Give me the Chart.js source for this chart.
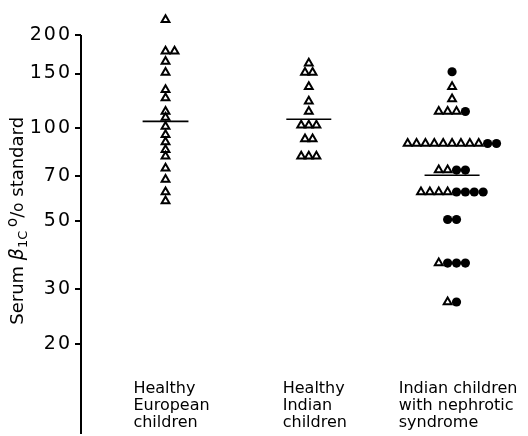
<!DOCTYPE html>
<html>
<head>
<meta charset="utf-8">
<script src="https://cdn.jsdelivr.net/npm/chart.js@4.4.1/dist/chart.umd.min.js"></script>
<style>
  html, body { margin: 0; padding: 0; background: #fff; }
  #wrap { position: relative; width: 528px; height: 436px; }
</style>
</head>
<body>
<div id="wrap"><canvas id="chart"></canvas></div>
<script>
// Group captions (each line drawn under its column)
const groupLabels = [
  ['Healthy', 'European', 'children'],
  ['Healthy', 'Indian', 'children'],
  ['Indian children', 'with nephrotic', 'syndrome']
];

// Labelled ticks on the logarithmic axis
const yTickValues = [20, 30, 50, 70, 100, 150, 200];

// Serum beta-1C, % of standard — open triangles and filled circles
const europeanTriangles = [224, 177, 177, 164, 151, 133, 125, 113, 108, 101, 95, 90, 85, 81, 74, 68, 62, 58];
const indianTriangles = [162, 151, 151, 136, 122, 113, 102, 102, 102, 92, 92, 81, 81, 81];
const nephroticTriangles = [136, 124, 113, 113, 113, 89, 89, 89, 89, 89, 89, 89, 89, 89, 73, 73, 62, 62, 62, 62, 36.5, 27.3];
const nephroticCircles = [152, 113, 89, 89, 73, 73, 62, 62, 62, 62, 50.5, 50.5, 36.5, 36.5, 36.5, 27.3];

// Group means (horizontal bars)
const groupMeans = [105, 106.6, 70.2];

// Axis extent: the drawn spine runs from the bottom up to the 200 tick
const yMin = 10.2, ySpineTop = 200, yMax = 250;
const xMin = 0.41, xMax = 3.53;

const FONT = '"DejaVu Sans", Verdana, sans-serif';

// How the points of each column are spread when several share a value
const groups = [
  { triangles: europeanTriangles, circles: [], align: 'start', step: 0.063, meanHalf: 0.160 },
  { triangles: indianTriangles, circles: [], align: 'center', step: 0.053, meanHalf: 0.157 },
  { triangles: nephroticTriangles, circles: nephroticCircles, align: 'center', step: 0.062, meanHalf: 0.192 }
];

function layoutGroup(g, center) {
  const rows = new Map();
  const bump = (v, key) => {
    if (!rows.has(v)) rows.set(v, { tri: 0, circ: 0 });
    rows.get(v)[key]++;
  };
  g.triangles.forEach(v => bump(v, 'tri'));
  g.circles.forEach(v => bump(v, 'circ'));
  const tri = [], circ = [];
  rows.forEach((r, v) => {
    const n = r.tri + r.circ;
    const anchor = g.align === 'center' ? (n - 1) / 2 : 0;
    for (let k = 0; k < n; k++) {
      const pt = { x: center + (k - anchor) * g.step, y: v };
      (k < r.tri ? tri : circ).push(pt);
    }
  });
  return { tri, circ };
}

const trianglePts = [], circlePts = [], meanSets = [];
groups.forEach((g, i) => {
  const center = i + 1;
  const { tri, circ } = layoutGroup(g, center);
  trianglePts.push(...tri);
  circlePts.push(...circ);
  meanSets.push({
    data: [{ x: center - g.meanHalf, y: groupMeans[i] }, { x: center + g.meanHalf, y: groupMeans[i] }],
    showLine: true, borderColor: '#000', borderWidth: 1.6, pointRadius: 0, clip: false
  });
});

// Rotated axis title with beta subscript and the old-style per-cent sign
function drawYTitle(ctx, cx, cy) {
  const size = 18;
  const parts = [
    { t: 'Serum ', f: `${size}px ${FONT}`, dy: 0 },
    { t: 'β', f: `italic ${size + 1}px ${FONT}`, dy: 0 },
    { t: '1C', f: `${size - 5}px ${FONT}`, dy: 4 },
    { t: ' ', f: `${size - 6}px ${FONT}`, dy: 0 },
    { t: 'o', f: `${size - 3}px ${FONT}`, dy: -6 },
    { t: '/', f: `${size}px ${FONT}`, dy: 0 },
    { t: 'o', f: `${size - 3}px ${FONT}`, dy: 0 },
    { t: ' standard', f: `${size}px ${FONT}`, dy: 0 }
  ];
  ctx.save();
  ctx.translate(cx, cy);
  ctx.rotate(-Math.PI / 2);
  ctx.fillStyle = '#000';
  ctx.textBaseline = 'alphabetic';
  ctx.textAlign = 'left';
  let total = 0;
  parts.forEach(p => { ctx.font = p.f; p.w = ctx.measureText(p.t).width; total += p.w; });
  let x = -total / 2;
  parts.forEach(p => {
    ctx.font = p.f;
    ctx.fillText(p.t, x, 6 + p.dy);
    x += p.w;
  });
  ctx.restore();
}

const textPlugin = {
  id: 'chartText',
  beforeDraw(chart) {
    // wider spacing for the axis numerals
    chart.ctx.letterSpacing = '2px';
  },
  afterDraw(chart) {
    const { ctx, chartArea, scales } = chart;
    ctx.letterSpacing = '0px';
    drawYTitle(ctx, 17, scales.y.getPixelForValue(50));
    ctx.save();
    ctx.fillStyle = '#000';
    ctx.font = `16px ${FONT}`;
    ctx.textAlign = 'left';
    ctx.textBaseline = 'alphabetic';
    groupLabels.forEach((lines, i) => {
      const widths = lines.map(l => ctx.measureText(l).width);
      const maxW = Math.max(...widths);
      const left = scales.x.getPixelForValue(i + 1) + 6 - maxW / 2;
      lines.forEach((l, j) => ctx.fillText(l, left, chartArea.bottom - 41 + j * 17));
    });
    ctx.restore();
  }
};

new Chart(document.getElementById('chart'), {
  type: 'scatter',
  data: {
    datasets: [
      {
        // vertical axis spine
        data: [{ x: xMin, y: yMin }, { x: xMin, y: ySpineTop }],
        showLine: true, borderColor: '#000', borderWidth: 2, pointRadius: 0, clip: false
      },
      {
        data: trianglePts, pointStyle: 'triangle', pointRadius: 4.5,
        borderColor: '#000', borderWidth: 2, backgroundColor: 'rgba(0,0,0,0)', clip: false
      },
      {
        data: circlePts, pointStyle: 'circle', pointRadius: 4.6,
        backgroundColor: '#000', borderColor: '#000', borderWidth: 0, clip: false
      },
      ...meanSets
    ]
  },
  options: {
    responsive: true,
    maintainAspectRatio: false,
    animation: false,
    events: [],
    layout: { autoPadding: false, padding: { top: 5, right: 0, bottom: 2, left: 0 } },
    plugins: { legend: { display: false }, tooltip: { enabled: false } },
    scales: {
      x: { type: 'linear', min: xMin, max: xMax, display: false },
      y: {
        type: 'logarithmic', min: yMin, max: yMax,
        afterBuildTicks: s => { s.ticks = yTickValues.map(v => ({ value: v })); },
        afterFit: s => { s.width = 81; s.paddingTop = 0; s.paddingBottom = 0; },
        ticks: {
          callback: v => String(v), autoSkip: false, padding: 3,
          color: '#000', font: { family: FONT, size: 19 }
        },
        grid: { drawOnChartArea: false, drawTicks: true, tickLength: 6, color: '#000', lineWidth: 2 },
        border: { display: false }
      }
    }
  },
  plugins: [textPlugin]
});
</script>
</body>
</html>
